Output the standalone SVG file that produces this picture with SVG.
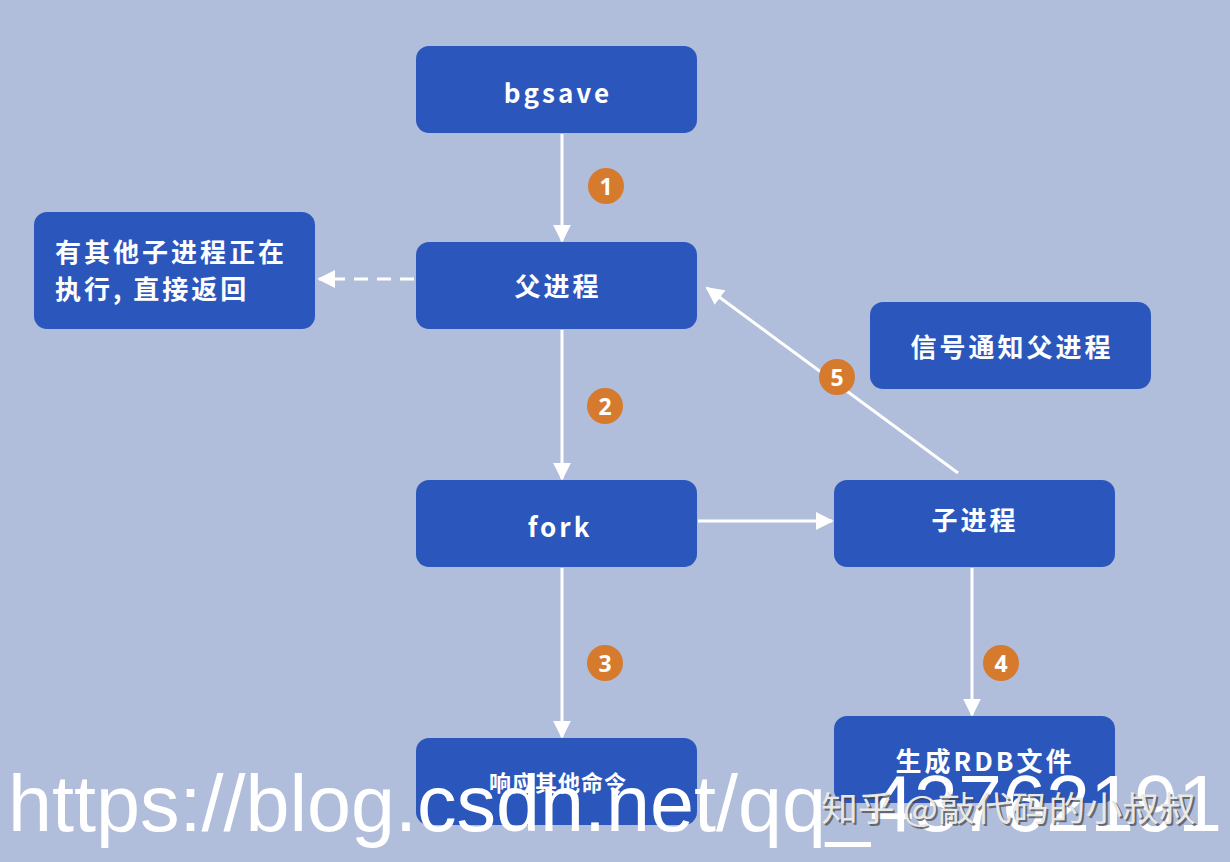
<svg xmlns="http://www.w3.org/2000/svg" width="1230" height="862" viewBox="0 0 1230 862">
<defs>
<style>
.box{fill:#2b57bd}
.t{fill:#fff;font-family:"Noto Sans CJK SC","Noto Sans",sans-serif;font-weight:700;font-size:26px;letter-spacing:3px;text-anchor:middle;dominant-baseline:central}
.l{text-anchor:start}
.c{fill:#d67a2d}
.n{fill:#fff;font-family:"Noto Sans","DejaVu Sans",sans-serif;font-weight:700;font-size:23px;text-anchor:middle;dominant-baseline:central}
.ln{stroke:#fff;stroke-width:3;fill:none}
</style>
<marker id="ah" viewBox="0 0 10 10" refX="9" refY="5" markerWidth="6" markerHeight="6" markerUnits="strokeWidth" orient="auto">
<path d="M0,0 L10,5 L0,10 z" fill="#fff"/>
</marker>
</defs>
<rect width="1230" height="862" fill="#b0bedc"/>
<g id="connectors">
<line class="ln" x1="562" y1="134" x2="562" y2="241" marker-end="url(#ah)"/>
<line class="ln" x1="562" y1="330" x2="562" y2="479" marker-end="url(#ah)"/>
<line class="ln" x1="562" y1="568" x2="562" y2="737" marker-end="url(#ah)"/>
<line class="ln" x1="698" y1="521" x2="832" y2="521" marker-end="url(#ah)"/>
<line class="ln" x1="972" y1="568" x2="972" y2="715" marker-end="url(#ah)"/>
<line class="ln" x1="958" y1="473" x2="707" y2="288" marker-end="url(#ah)"/>
<line class="ln" x1="414" y1="279" x2="319" y2="279" stroke-dasharray="14,9" marker-end="url(#ah)"/>
</g>
<g id="badges">
<circle class="c" cx="606" cy="186" r="18"/><text class="n" x="606" y="186">1</text>
<circle class="c" cx="605" cy="406" r="18"/><text class="n" x="605" y="406">2</text>
<circle class="c" cx="605" cy="663" r="18"/><text class="n" x="605" y="663">3</text>
<circle class="c" cx="1001" cy="663" r="18"/><text class="n" x="1001" y="663">4</text>
<circle class="c" cx="837" cy="377" r="18"/><text class="n" x="837" y="377">5</text>
</g>
<g id="bgsave"><rect class="box" x="416" y="46" width="281" height="87" rx="13"/><text class="t" x="558" y="91">bgsave</text></g>
<g id="parent"><rect class="box" x="416" y="242" width="281" height="87" rx="13"/><text class="t" x="558" y="284">父进程</text></g>
<g id="busy"><rect class="box" x="34" y="212" width="281" height="117" rx="13"/>
<text class="t l" x="55" y="250">有其他子进程正在</text><text class="t l" x="55" y="287">执行, 直接返回</text></g>
<g id="signal"><rect class="box" x="870" y="302" width="281" height="87" rx="13"/><text class="t" x="1012" y="345">信号通知父进程</text></g>
<g id="fork"><rect class="box" x="416" y="480" width="281" height="87" rx="13"/><text class="t" x="560" y="525">fork</text></g>
<g id="child"><rect class="box" x="834" y="480" width="281" height="87" rx="13"/><text class="t" x="975" y="518">子进程</text></g>
<g id="respond"><rect class="box" x="416" y="738" width="281" height="87" rx="13"/><text class="t" x="558" y="781" style="font-size:22px;letter-spacing:1px">响应其他命令</text></g>
<g id="rdb"><rect class="box" x="834" y="716" width="281" height="87" rx="13"/><text class="t" x="985" y="759">生成RDB文件</text></g>
<g id="watermark">
<text x="8" y="831" font-family="'Liberation Sans',Arial,sans-serif" font-size="80" fill="#fff" textLength="1214" lengthAdjust="spacingAndGlyphs">https://blog.csdn.net/qq_43762191</text>
<text x="823" y="823" font-family="'Noto Sans CJK SC',sans-serif" font-size="34" fill="#444" opacity="0.7" textLength="375" lengthAdjust="spacingAndGlyphs">知乎 @敲代码的小叔叔</text>
<text x="821" y="821" font-family="'Noto Sans CJK SC',sans-serif" font-size="34" fill="#e8e8e8" textLength="375" lengthAdjust="spacingAndGlyphs">知乎 @敲代码的小叔叔</text>
</g>
</svg>
